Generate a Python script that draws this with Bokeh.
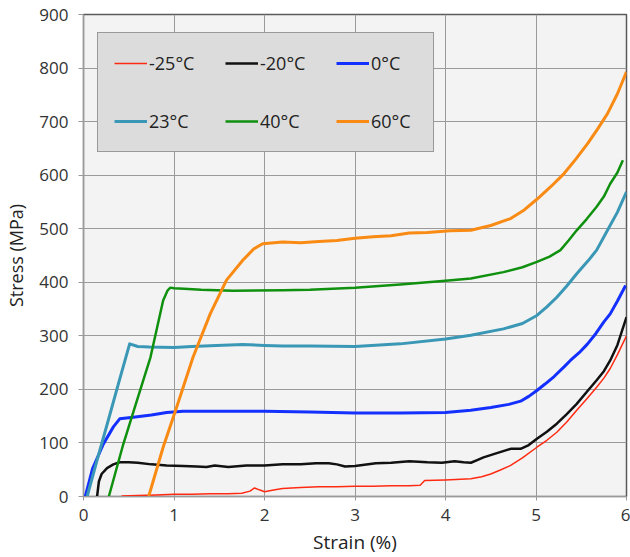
from bokeh.plotting import figure
from bokeh.models import Legend, LegendItem, Range1d, FixedTicker
from bokeh.embed import file_html
from bokeh.resources import INLINE

# ---- data ----
series_labels = ["-25°C", "-20°C", "0°C", "23°C", "40°C", "60°C"]

x_m25 = [0.42, 0.6, 0.8, 1.0, 1.2, 1.4, 1.6, 1.75, 1.84, 1.89, 1.95, 2.0, 2.1, 2.2, 2.4, 2.6, 2.8, 3.0,
         3.2, 3.4, 3.6, 3.72, 3.77, 4.0, 4.28, 4.4, 4.5, 4.6, 4.72, 4.85, 5.01, 5.12, 5.23, 5.34, 5.45,
         5.56, 5.67, 5.75, 5.82, 5.9, 6.0]
y_m25 = [1, 2, 3, 4, 4, 5, 5, 6, 10, 16, 12, 9, 12, 15, 17, 18, 18, 19,
         19, 20, 20, 21, 30, 31, 33, 37, 42, 49, 58, 72, 92, 105, 120, 139, 161,
         182, 204, 221, 239, 265, 300]

x_m20 = [0.15, 0.17, 0.2, 0.26, 0.33, 0.4, 0.5, 0.6, 0.75, 0.92, 1.1, 1.25, 1.36, 1.45, 1.6, 1.8, 2.0,
         2.2, 2.4, 2.57, 2.71, 2.8, 2.89, 3.0, 3.23, 3.4, 3.6, 3.8, 3.96, 4.1, 4.2, 4.28, 4.35, 4.42,
         4.55, 4.72, 4.83, 4.92, 5.01, 5.12, 5.23, 5.34, 5.45, 5.56, 5.67, 5.75, 5.82, 5.9, 6.0]
y_m20 = [0, 28, 42, 53, 60, 64, 64, 63, 60, 58, 57, 56, 55, 58, 55, 58, 58,
         60, 60, 62, 62, 60, 56, 57, 62, 63, 66, 64, 63, 66, 64, 63, 68, 73,
         80, 89, 89, 96, 108, 121, 136, 154, 173, 195, 217, 234, 254, 283, 335]

x_0 = [0.02, 0.1, 0.22, 0.33, 0.4, 0.55, 0.75, 0.92, 1.1, 1.5, 2.0, 2.5, 3.0, 3.5, 4.0, 4.28, 4.5,
       4.7, 4.83, 4.92, 5.01, 5.1, 5.2, 5.31, 5.38, 5.48, 5.57, 5.66, 5.75, 5.82, 5.9, 5.99]
y_0 = [0, 52, 98, 130, 145, 148, 152, 157, 159, 159, 159, 158, 156, 156, 157, 161, 166,
       172, 178, 187, 198, 210, 224, 242, 254, 269, 285, 304, 326, 341, 365, 394]

x_23 = [0.04, 0.15, 0.27, 0.39, 0.51, 0.6, 0.73, 1.0, 1.2, 1.47, 1.76, 2.0, 2.2, 2.5, 3.0, 3.5, 4.0,
        4.28, 4.64, 4.85, 5.01, 5.12, 5.23, 5.34, 5.45, 5.58, 5.67, 5.79, 5.9, 6.0]
y_23 = [0, 68, 140, 213, 285, 280, 279, 278, 280, 282, 284, 282, 281, 281, 280, 285, 294,
        301, 313, 323, 338, 354, 372, 393, 416, 441, 460, 497, 531, 569]

x_40 = [0.28, 0.44, 0.59, 0.74, 0.88, 0.93, 0.96, 1.0, 1.11, 1.3, 1.65, 2.2, 2.5, 3.0, 3.5, 4.0,
        4.28, 4.64, 4.85, 5.01, 5.15, 5.27, 5.36, 5.45, 5.56, 5.67, 5.75, 5.82, 5.9, 5.96]
y_40 = [0, 98, 179, 260, 366, 385, 390, 389, 388, 386, 384, 385, 386, 390, 396, 403,
        407, 419, 428, 438, 448, 460, 478, 497, 518, 541, 560, 584, 605, 628]

x_60 = [0.72, 0.88, 1.03, 1.21, 1.4, 1.58, 1.76, 1.88, 1.98, 2.2, 2.4, 2.6, 2.8, 3.0, 3.2, 3.4, 3.6,
        3.8, 4.05, 4.28, 4.5, 4.72, 4.87, 5.01, 5.16, 5.31, 5.44, 5.57, 5.68, 5.79, 5.9, 6.0]
y_60 = [0, 92, 167, 260, 341, 404, 441, 462, 472, 475, 474, 476, 478, 482, 485, 487, 492,
        493, 496, 497, 506, 519, 535, 555, 578, 603, 630, 659, 686, 715, 752, 793]

x_ticks = [0, 1, 2, 3, 4, 5, 6]
y_ticks = [0, 100, 200, 300, 400, 500, 600, 700, 800, 900]

series_x = [x_m25, x_m20, x_0, x_23, x_40, x_60]
series_y = [y_m25, y_m20, y_0, y_23, y_40, y_60]
colors = ["#ff2a12", "#111111", "#1430ff", "#3a98b6", "#10900f", "#f98a14"]
widths = [1.5, 2.5, 3, 3, 2.5, 3]

FONT = "Open Sans"

p = figure(width=630, height=557, output_backend="svg", toolbar_location=None,
           x_range=Range1d(0, 6), y_range=Range1d(0, 900),
           min_border_left=83, min_border_right=4, min_border_top=14, min_border_bottom=61)

p.background_fill_color = "#f3f3f3"
p.border_fill_color = "white"
p.outline_line_color = "#5a5a5a"
p.outline_line_width = 1.5

p.xgrid.grid_line_color = "#9a9a9a"
p.ygrid.grid_line_color = "#9a9a9a"
p.xgrid.grid_line_width = 1
p.ygrid.grid_line_width = 1

p.xaxis.ticker = FixedTicker(ticks=x_ticks)
p.yaxis.ticker = FixedTicker(ticks=y_ticks)

for ax in (p.xaxis[0], p.yaxis[0]):
    ax.axis_line_color = "#9a9a9a"
    ax.major_tick_line_color = "#9a9a9a"
    ax.minor_tick_line_color = None
    ax.major_tick_in = 0
    ax.major_label_text_font = FONT
    ax.major_label_text_font_size = "17px"
    ax.major_label_text_color = "#333333"
    ax.axis_label_text_font = FONT
    ax.axis_label_text_font_size = "18px"
    ax.axis_label_text_font_style = "normal"
    ax.axis_label_text_color = "#222222"

p.xaxis.axis_label = "Strain (%)"
p.yaxis.axis_label = "Stress (MPa)"
p.xaxis.axis_label_text_font_size = "19px"
p.xaxis.major_tick_out = 4
p.yaxis.major_tick_out = 5
p.xaxis.major_label_standoff = 8
p.yaxis.major_label_standoff = 10
p.xaxis.axis_label_standoff = 5
p.yaxis.axis_label_standoff = 8

renderers = []
for xs, ys, c, w in zip(series_x, series_y, colors, widths):
    r = p.line(xs, ys, line_color=c, line_width=w, line_join="round")
    renderers.append(r)

items = [LegendItem(label=lab, renderers=[r]) for lab, r in zip(series_labels, renderers)]
legend = Legend(items=items, ncols=3, orientation="horizontal", location=(14, 344),
                glyph_width=33, glyph_height=28, label_height=28, label_width=46,
                label_standoff=2, spacing=30, padding=16, margin=0,
                label_text_font=FONT, label_text_font_size="18px", label_text_color="#222222",
                background_fill_color="#dcdcdc", background_fill_alpha=1.0,
                border_line_color="#555555", border_line_width=1.5)
p.add_layout(legend)

open("out.html", "w").write(file_html(p, INLINE))
